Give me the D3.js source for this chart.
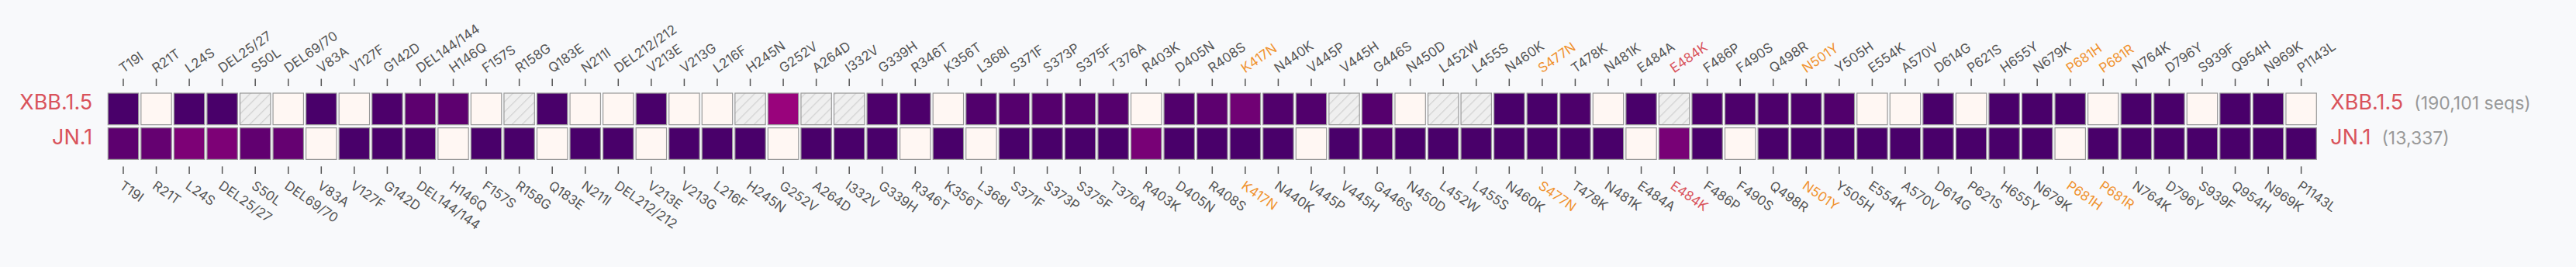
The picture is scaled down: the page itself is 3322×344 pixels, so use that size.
<!DOCTYPE html>
<html>
<head>
<meta charset="utf-8">
<script src="https://cdn.jsdelivr.net/npm/d3@7"></script>
<style>
  html, body { margin: 0; padding: 0; background: #f8f9fb; }
  svg { display: block; }
  text { font-family: "Inter", "Lato", sans-serif; }
</style>
</head>
<body>
<svg id="chart" width="3322" height="344"></svg>
<script>
const mutations = ["T19I","R21T","L24S","DEL25/27","S50L","DEL69/70","V83A","V127F","G142D","DEL144/144",
  "H146Q","F157S","R158G","Q183E","N211I","DEL212/212","V213E","V213G","L216F","H245N",
  "G252V","A264D","I332V","G339H","R346T","K356T","L368I","S371F","S373P","S375F",
  "T376A","R403K","D405N","R408S","K417N","N440K","V445P","V445H","G446S","N450D",
  "L452W","L455S","N460K","S477N","T478K","N481K","E484A","E484K","F486P","F490S",
  "Q498R","N501Y","Y505H","E554K","A570V","D614G","P621S","H655Y","N679K","P681H",
  "P681R","N764K","D796Y","S939F","Q954H","N969K","P1143L"];

const lineages = ["XBB.1.5", "JN.1"];
const seqCounts = ["(190,101 seqs)", "(13,337)"];

// prevalence of each mutation (0..1), null = not available (hatched)
const xbbValues = [1.0,0,1.0,1.0,null,0,1.0,0,0.99,0.95,
  0.95,0,null,1.0,0,0,1.0,0,0,null,
  0.8,null,null,0.99,0.99,0,0.98,0.97,0.97,0.97,
  0.97,0,0.98,0.95,0.9,0.98,0.98,null,0.97,0,
  null,null,1.0,1.0,0.99,0,1.0,null,0.99,0.99,
  0.99,0.99,0.98,0,0,1.0,0,1.0,1.0,1.0,
  0,1.0,1.0,0,1.0,1.0,0];

const jnValues = [0.95,0.93,0.87,0.87,0.94,0.93,0,1.0,1.0,0.99,
  0,1.0,1.0,0,1.0,1.0,0,1.0,1.0,1.0,
  0,1.0,1.0,1.0,0,1.0,0,1.0,1.0,1.0,
  1.0,0.88,1.0,1.0,1.0,1.0,0,1.0,0.98,1.0,
  1.0,1.0,1.0,1.0,1.0,1.0,0,0.88,1.0,0,
  1.0,1.0,1.0,1.0,1.0,1.0,1.0,1.0,1.0,0,
  1.0,1.0,1.0,1.0,1.0,1.0,1.0];

const orangeMutations = ["K417N","S477N","N501Y","P681H","P681R"];
const redMutations = ["E484K"];

const valuesByLineage = [xbbValues, jnValues];

const svg = d3.select("#chart");
const defs = svg.append("defs");
const pat = defs.append("pattern")
  .attr("id", "hatch")
  .attr("patternUnits", "userSpaceOnUse")
  .attr("width", 9.2).attr("height", 9.2)
  .attr("patternTransform", "rotate(45)");
pat.append("rect").attr("width", 9.2).attr("height", 9.2).attr("fill", "#efefef");
pat.append("line").attr("x1", 0).attr("y1", 0).attr("x2", 0).attr("y2", 9.2)
  .attr("stroke", "#d2d2d2").attr("stroke-width", 2.6);

const x = d3.scaleBand().domain(mutations).range([136.1, 2990.5]).paddingInner(0.075).paddingOuter(0.075);
const y = d3.scaleBand().domain(lineages).range([116, 209.4]).paddingInner(0.09).paddingOuter(0.09);
const color = d3.scaleSequential(d3.interpolateRdPu).domain([0, 1]);

const cells = [];
lineages.forEach((lin, i) => {
  mutations.forEach((m, j) => cells.push({lineage: lin, mutation: m, value: valuesByLineage[i][j]}));
});

svg.append("g").selectAll("rect").data(cells).join("rect")
  .attr("x", d => x(d.mutation))
  .attr("y", d => y(d.lineage))
  .attr("width", x.bandwidth())
  .attr("height", y.bandwidth())
  .attr("fill", d => d.value === null ? "url(#hatch)" : color(d.value))
  .attr("stroke", "#9a9a9a")
  .attr("stroke-width", 1.2);

function labelColor(m) {
  if (redMutations.includes(m)) return "#d9535b";
  if (orangeMutations.includes(m)) return "#f0922e";
  return "#555";
}

const tickLen = 9.5;
const topY = y.range()[0] + y.step() * y.paddingOuter() - 9;
const botY = y(lineages[1]) + y.bandwidth() + 9;

const topAxis = svg.append("g").attr("transform", `translate(0,${topY})`)
  .call(d3.axisTop(x).tickSize(tickLen).tickSizeOuter(0));
topAxis.select(".domain").remove();
topAxis.selectAll(".tick line").attr("stroke", "#555").attr("stroke-width", 1.5);
topAxis.selectAll(".tick text")
  .attr("x", 0).attr("y", 0).attr("dy", 0)
  .attr("transform", `translate(0,${-(tickLen + 7)}) rotate(-35)`)
  .style("text-anchor", "start")
  .style("font-size", "17px")
  .style("font-family", "Inter, Lato, sans-serif")
  .attr("fill", d => labelColor(d));

const botAxis = svg.append("g").attr("transform", `translate(0,${botY})`)
  .call(d3.axisBottom(x).tickSize(tickLen).tickSizeOuter(0));
botAxis.select(".domain").remove();
botAxis.selectAll(".tick line").attr("stroke", "#555").attr("stroke-width", 1.5);
botAxis.selectAll(".tick text")
  .attr("x", 0).attr("y", 0).attr("dy", 0)
  .attr("transform", `translate(-6,${tickLen + 18}) rotate(35)`)
  .style("text-anchor", "start")
  .style("font-size", "17px")
  .style("font-family", "Inter, Lato, sans-serif")
  .attr("fill", d => labelColor(d));

// left lineage labels
svg.append("g").selectAll("text").data(lineages).join("text")
  .attr("x", x.range()[0] + x.step() * x.paddingOuter() - 20)
  .attr("y", d => y(d) + y.bandwidth() / 2 + 0.5)
  .attr("text-anchor", "end")
  .attr("fill", "#d9535b")
  .style("font-size", "27px")
  .text(d => d);

// right lineage labels with counts
const right = svg.append("g").selectAll("text").data(lineages).join("text")
  .attr("x", x(mutations[mutations.length - 1]) + x.bandwidth() + 18)
  .attr("y", d => y(d) + y.bandwidth() / 2 + 0.5)
  .attr("text-anchor", "start");
right.append("tspan").attr("fill", "#d9535b").style("font-size", "27px").text(d => d);
right.append("tspan").attr("fill", "#999").attr("dx", 14).style("font-size", "23px").text((d, i) => seqCounts[i]);
</script>
</body>
</html>
